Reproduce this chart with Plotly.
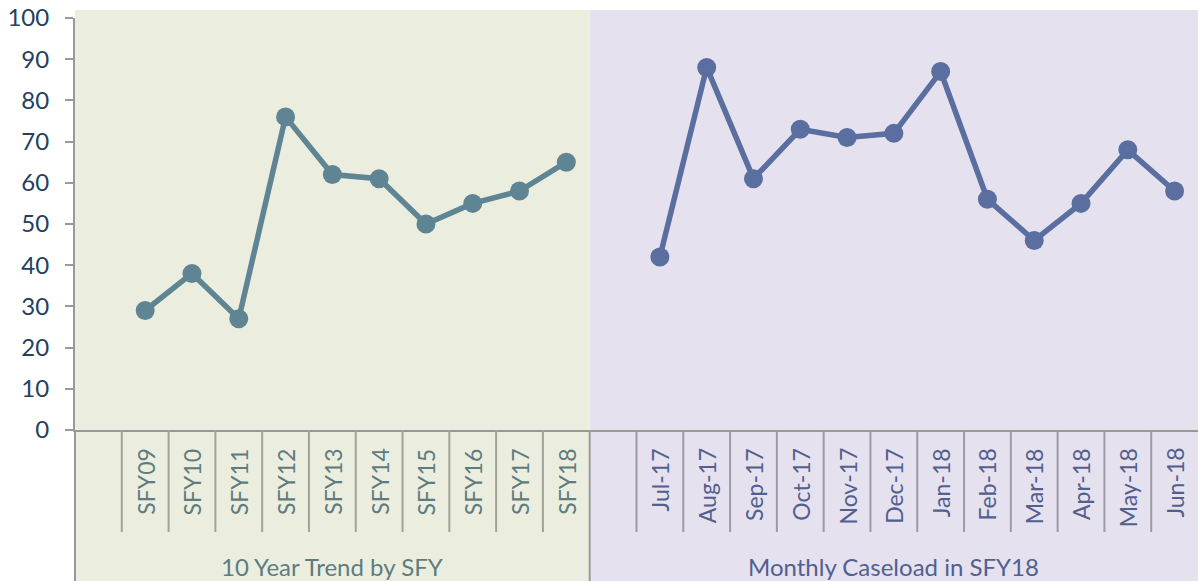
import plotly.graph_objects as go

# ---- data ----
fy_labels = ["SFY09", "SFY10", "SFY11", "SFY12", "SFY13", "SFY14", "SFY15", "SFY16", "SFY17", "SFY18"]
fy_values = [29, 38, 27, 76, 62, 61, 50, 55, 58, 65]
month_labels = ["Jul-17", "Aug-17", "Sep-17", "Oct-17", "Nov-17", "Dec-17",
                "Jan-18", "Feb-18", "Mar-18", "Apr-18", "May-18", "Jun-18"]
month_values = [42, 88, 61, 73, 71, 72, 87, 56, 46, 55, 68, 58]
group_labels = ["10 Year Trend by SFY", "Monthly Caseload in SFY18"]
y_ticks = list(range(0, 101, 10))

# ---- styles ----
W, H = 1198, 581
ML, MR, MT, MB = 75, 0, 18, 151
PLOT_H = H - MT - MB
FONT = "Lato"
GREEN_BG = "#ebeedf"
PURPLE_BG = "#e6e1ee"
GREEN_LINE = "#5f8494"
PURPLE_LINE = "#5a6fa0"
GREEN_TXT = "#5e7c80"
PURPLE_TXT = "#51608e"
YTXT = "#243f60"
AXIS = "#999999"

# category positions: blank slot, FY group, blank slot, month group
fy_x = [1 + i for i in range(len(fy_labels))]
month_x = [len(fy_labels) + 2 + i for i in range(len(month_labels))]
n_cat = len(fy_labels) + len(month_labels) + 2
xmin, xmax = -0.5, n_cat - 0.5


def px(x):
    return (x - xmin) / (xmax - xmin)


def py(pix_below_axis):
    return -pix_below_axis / PLOT_H


fig = go.Figure()
fig.add_trace(go.Scatter(x=fy_x, y=fy_values, mode="lines+markers",
                         line=dict(color=GREEN_LINE, width=5.5),
                         marker=dict(color=GREEN_LINE, size=19), showlegend=False))
fig.add_trace(go.Scatter(x=month_x, y=month_values, mode="lines+markers",
                         line=dict(color=PURPLE_LINE, width=5.5),
                         marker=dict(color=PURPLE_LINE, size=19), showlegend=False))

split = len(fy_labels) + 0.5
top = 1 + 8 / PLOT_H
bottom = py(MB)
shapes = [
    dict(type="rect", xref="paper", yref="paper", x0=px(xmin), x1=px(split),
         y0=bottom, y1=top, fillcolor=GREEN_BG, line=dict(width=0), layer="below"),
    dict(type="rect", xref="paper", yref="paper", x0=px(split), x1=1.0,
         y0=bottom, y1=top, fillcolor=PURPLE_BG, line=dict(width=0), layer="below"),
    # axis line extension and group separator
    dict(type="line", xref="paper", yref="paper", x0=px(xmin), x1=px(xmin),
         y0=bottom, y1=0, line=dict(color=AXIS, width=2)),
    dict(type="line", xref="paper", yref="paper", x0=px(split), x1=px(split),
         y0=bottom, y1=0, line=dict(color=AXIS, width=2)),
]
for k in range(1, n_cat):
    b = k - 0.5
    if abs(b - split) < 1e-9:
        continue
    shapes.append(dict(type="line", xref="paper", yref="paper", x0=px(b), x1=px(b),
                       y0=py(102), y1=0,
                       line=dict(color="#a0a398" if b < split else "#9d99a6", width=2)))

annotations = []
for lab, x in zip(fy_labels, fy_x):
    annotations.append(dict(x=x, y=py(16), xref="x", yref="paper", text=lab,
                            showarrow=False, textangle=-90, xanchor="center", yanchor="top",
                            font=dict(family=FONT, size=23, color=GREEN_TXT)))
for lab, x in zip(month_labels, month_x):
    annotations.append(dict(x=x, y=py(16), xref="x", yref="paper", text=lab,
                            showarrow=False, textangle=-90, xanchor="center", yanchor="top",
                            font=dict(family=FONT, size=23, color=PURPLE_TXT)))
annotations.append(dict(x=(px(xmin) + px(split)) / 2, y=py(136), xref="paper", yref="paper",
                        text=group_labels[0], showarrow=False, xanchor="center", yanchor="middle",
                        font=dict(family=FONT, size=24, color=GREEN_TXT)))
annotations.append(dict(x=(px(split) + 1.0) / 2, y=py(136), xref="paper", yref="paper",
                        text=group_labels[1], showarrow=False, xanchor="center", yanchor="middle",
                        font=dict(family=FONT, size=24, color=PURPLE_TXT)))

fig.update_layout(
    width=W, height=H,
    margin=dict(l=ML, r=MR, t=MT, b=MB),
    paper_bgcolor="white", plot_bgcolor="rgba(0,0,0,0)",
    shapes=shapes, annotations=annotations,
    xaxis=dict(range=[xmin, xmax], showgrid=False, zeroline=False, showticklabels=False,
               showline=True, linecolor=AXIS, linewidth=2, ticks=""),
    yaxis=dict(range=[0, 100], tickvals=y_ticks, showgrid=False, zeroline=False,
               showline=True, linecolor=AXIS, linewidth=2, ticks="outside", ticklen=8,
               tickcolor=AXIS, tickwidth=2, ticklabelstandoff=11,
               tickfont=dict(family=FONT, size=24, color=YTXT)),
)

fig.write_html("out.html", config={"displayModeBar": False},
               post_script="document.body.style.margin='0';document.body.style.overflow='hidden';")
